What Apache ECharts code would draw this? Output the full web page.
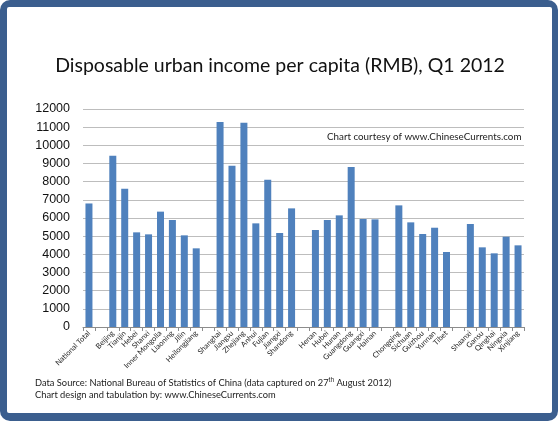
<!DOCTYPE html>
<html>
<head>
<meta charset="utf-8">
<title>Disposable urban income per capita</title>
<script src="https://cdn.jsdelivr.net/npm/echarts@6/dist/echarts.min.js"></script>
<style>
  html, body { margin: 0; padding: 0; background: #fff; }
  #main { width: 560px; height: 422px; }
</style>
</head>
<body>
<div id="main"></div>
<script>
// regions, empty strings are the gaps between groups
var regions = [
  'National Total', '',
  'Beijing', 'Tianjin', 'Hebei', 'Shanxi', 'Inner Mongolia', 'Liaoning', 'Jilin', 'Heilongjiang', '',
  'Shanghai', 'Jiangsu', 'Zhejiang', 'Anhui', 'Fujian', 'Jiangxi', 'Shandong', '',
  'Henan', 'Hubei', 'Hunan', 'Guangdong', 'Guangxi', 'Hainan', '',
  'Chongqing', 'Sichuan', 'Guizhou', 'Yunnan', 'Tibet', '',
  'Shaanxi', 'Gansu', 'Qinghai', 'Ningxia', 'Xinjiang'
]
// RMB, Q1 2012
var income = [
  6800, null,
  9430, 7610, 5210, 5100, 6350, 5890, 5045, 4330, null,
  11280, 8880, 11245, 5705, 8110, 5175, 6530, null,
  5340, 5890, 6145, 8805, 5945, 5925, null,
  6695, 5760, 5120, 5465, 4130, null,
  5670, 4385, 4055, 4970, 4495
]
var yTicks = [0, 1000, 2000, 3000, 4000, 5000, 6000, 7000, 8000, 9000, 10000, 11000, 12000]

var chart = echarts.init(document.getElementById('main'), null, { renderer: 'canvas' })

chart.setOption({
  animation: false,
  textStyle: {
    fontFamily: 'Lato'
  },
  graphic: [
    {
      type: 'rect',
      z: -10,
      shape: { x: 0, y: 0, width: 558, height: 421, r: 10 },
      style: { fill: '#3B5E8E' }
    },
    {
      type: 'rect',
      z: -9,
      shape: { x: 7, y: 7, width: 545, height: 406, r: 2 },
      style: { fill: '#ffffff' }
    },
    {
      type: 'text',
      left: 327,
      top: 132,
      style: {
        text: 'Chart courtesy of www.ChineseCurrents.com',
        font: '9.8px Lato',
        fill: '#222'
      }
    },
    {
      type: 'text',
      left: 35,
      top: 377,
      style: {
        text: 'Data Source: National Bureau of Statistics of China (data captured on 27{sup|th} August 2012)\nChart design and tabulation by: www.ChineseCurrents.com',
        font: '9.3px Lato',
        fill: '#222',
        lineHeight: 12,
        rich: {
          sup: { fontSize: 6.5, verticalAlign: 'top', padding: [0, 0, 4, 0] }
        }
      }
    }
  ],
  title: {
    text: 'Disposable urban income per capita (RMB), Q1 2012',
    left: 'center',
    top: 51,
    textStyle: {
      fontFamily: 'Lato',
      fontSize: 19.5,
      fontWeight: 'normal',
      color: '#111'
    }
  },
  grid: {
    left: 83,
    right: 36,
    top: 109,
    bottom: 95
  },
  xAxis: {
    type: 'category',
    data: regions,
    axisLine: { lineStyle: { color: '#8C8C8C' } },
    axisTick: { show: true, length: 4, interval: 0, lineStyle: { color: '#8C8C8C' } },
    axisLabel: {
      interval: 0,
      rotate: 45,
      margin: 5,
      fontSize: 7.5,
      fontFamily: 'Lato',
      color: '#222'
    }
  },
  yAxis: {
    type: 'value',
    min: yTicks[0],
    max: yTicks[yTicks.length - 1],
    interval: 1000,
    axisLine: { show: false },
    axisTick: { show: false },
    axisLabel: {
      margin: 13,
      fontSize: 12.5,
      fontFamily: 'Liberation Sans',
      color: '#111',
      formatter: function (v) { return String(v) }
    },
    splitLine: { lineStyle: { color: '#BDBDBD' } }
  },
  series: [
    {
      type: 'bar',
      data: income,
      barWidth: 7,
      itemStyle: { color: '#4F81BD' }
    }
  ]
})
</script>
</body>
</html>
